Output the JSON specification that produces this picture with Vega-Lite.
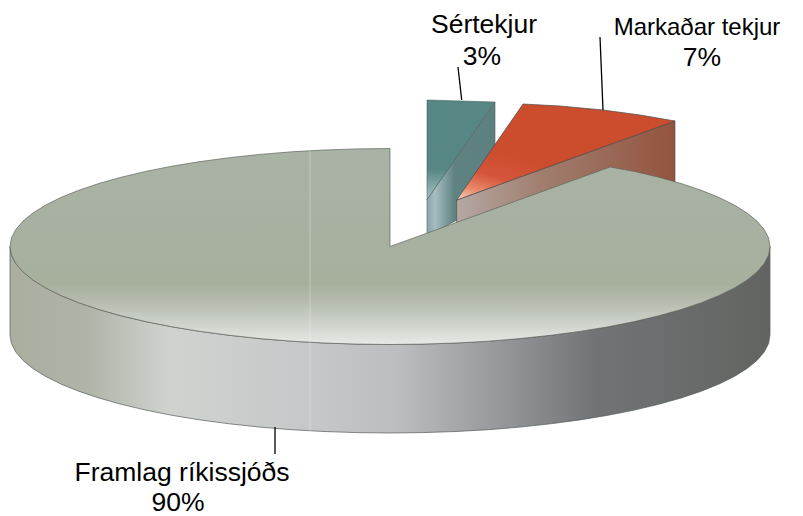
{
"$schema":"https://vega.github.io/schema/vega-lite/v6.json",
"width":803,"height":516,"padding":0,"autosize":{"type":"none"},
"background":"white",
"config":{"view":{"stroke":null}},
"datasets":{
"outline":[
{"shape":"tealSide","order":1,"x":495,"y":102},{"shape":"tealSide","order":2,"x":495,"y":200},{"shape":"tealSide","order":3,"x":427,"y":236},{"shape":"tealSide","order":4,"x":427,"y":199.5},{"shape":"tealSide","order":5,"x":495,"y":102},
{"shape":"tealTop","order":1,"x":427,"y":100},{"shape":"tealTop","order":2,"x":495,"y":102},{"shape":"tealTop","order":3,"x":427,"y":199.5},{"shape":"tealTop","order":4,"x":427,"y":100},
{"shape":"redSide","order":1,"x":675,"y":121},{"shape":"redSide","order":2,"x":675,"y":215},{"shape":"redSide","order":3,"x":456.7,"y":260},{"shape":"redSide","order":4,"x":456.7,"y":200},{"shape":"redSide","order":5,"x":675,"y":121},
{"shape":"redTop","order":1,"x":456.7,"y":200},{"shape":"redTop","order":2,"x":523,"y":104},{"shape":"redTop","order":3,"x":560,"y":106},{"shape":"redTop","order":4,"x":603,"y":110},{"shape":"redTop","order":5,"x":640,"y":115},{"shape":"redTop","order":6,"x":675,"y":121},{"shape":"redTop","order":7,"x":456.7,"y":200},
{"shape":"side","order":1,"x":10,"y":246.5},{"shape":"side","order":2,"x":11.4,"y":255},{"shape":"side","order":3,"x":15.8,"y":263.5},{"shape":"side","order":4,"x":23,"y":271.9},{"shape":"side","order":5,"x":32.9,"y":280},{"shape":"side","order":6,"x":45.6,"y":287.9},{"shape":"side","order":7,"x":60.9,"y":295.5},{"shape":"side","order":7.5,"x":78.7,"y":302.7},{"shape":"side","order":8,"x":98.9,"y":309.5},{"shape":"side","order":8.5,"x":121.3,"y":315.8},{"shape":"side","order":9,"x":145.7,"y":321.6},{"shape":"side","order":9.5,"x":172,"y":326.8},{"shape":"side","order":10,"x":200,"y":331.4},{"shape":"side","order":10.5,"x":229.4,"y":335.3},{"shape":"side","order":11,"x":260,"y":338.6},{"shape":"side","order":11.5,"x":291.7,"y":341.2},{"shape":"side","order":12,"x":324,"y":343},{"shape":"side","order":12.5,"x":356.9,"y":344.1},{"shape":"side","order":13,"x":390,"y":344.5},{"shape":"side","order":13.5,"x":423.1,"y":344.1},{"shape":"side","order":14,"x":456,"y":343},{"shape":"side","order":14.5,"x":488.3,"y":341.2},{"shape":"side","order":15,"x":520,"y":338.6},{"shape":"side","order":15.5,"x":550.6,"y":335.3},{"shape":"side","order":16,"x":580,"y":331.4},{"shape":"side","order":16.5,"x":608,"y":326.8},{"shape":"side","order":17,"x":634.3,"y":321.6},{"shape":"side","order":17.5,"x":658.7,"y":315.8},{"shape":"side","order":18,"x":681.1,"y":309.5},{"shape":"side","order":18.5,"x":701.3,"y":302.7},{"shape":"side","order":19,"x":719.1,"y":295.5},{"shape":"side","order":20,"x":734.4,"y":287.9},{"shape":"side","order":21,"x":747.1,"y":280},{"shape":"side","order":22,"x":757,"y":271.9},{"shape":"side","order":23,"x":764.2,"y":263.5},{"shape":"side","order":24,"x":768.6,"y":255},{"shape":"side","order":25,"x":770,"y":246.5},
{"shape":"side","order":26,"x":770,"y":335},{"shape":"side","order":27,"x":768.6,"y":343.5},{"shape":"side","order":28,"x":764.2,"y":352},{"shape":"side","order":29,"x":757,"y":360.4},{"shape":"side","order":30,"x":747.1,"y":368.5},{"shape":"side","order":31,"x":734.4,"y":376.4},{"shape":"side","order":32,"x":719.1,"y":384},{"shape":"side","order":32.5,"x":701.3,"y":391.2},{"shape":"side","order":33,"x":681.1,"y":398},{"shape":"side","order":33.5,"x":658.7,"y":404.3},{"shape":"side","order":34,"x":634.3,"y":410.1},{"shape":"side","order":34.5,"x":608,"y":415.3},{"shape":"side","order":35,"x":580,"y":419.9},{"shape":"side","order":35.5,"x":550.6,"y":423.8},{"shape":"side","order":36,"x":520,"y":427.1},{"shape":"side","order":36.5,"x":488.3,"y":429.7},{"shape":"side","order":37,"x":456,"y":431.5},{"shape":"side","order":37.5,"x":423.1,"y":432.6},{"shape":"side","order":38,"x":390,"y":433},{"shape":"side","order":38.5,"x":356.9,"y":432.6},{"shape":"side","order":39,"x":324,"y":431.5},{"shape":"side","order":39.5,"x":291.7,"y":429.7},{"shape":"side","order":40,"x":260,"y":427.1},{"shape":"side","order":40.5,"x":229.4,"y":423.8},{"shape":"side","order":41,"x":200,"y":419.9},{"shape":"side","order":41.5,"x":172,"y":415.3},{"shape":"side","order":42,"x":145.7,"y":410.1},{"shape":"side","order":42.5,"x":121.3,"y":404.3},{"shape":"side","order":43,"x":98.9,"y":398},{"shape":"side","order":43.5,"x":78.7,"y":391.2},{"shape":"side","order":44,"x":60.9,"y":384},{"shape":"side","order":45,"x":45.6,"y":376.4},{"shape":"side","order":46,"x":32.9,"y":368.5},{"shape":"side","order":47,"x":23,"y":360.4},{"shape":"side","order":48,"x":15.8,"y":352},{"shape":"side","order":49,"x":11.4,"y":343.5},{"shape":"side","order":50,"x":10,"y":335},{"shape":"side","order":51,"x":10,"y":246.5},
{"shape":"top","order":1,"x":390,"y":148.5},{"shape":"top","order":1.5,"x":356.9,"y":148.9},{"shape":"top","order":2,"x":324,"y":150},{"shape":"top","order":2.5,"x":291.7,"y":151.8},{"shape":"top","order":3,"x":260,"y":154.4},{"shape":"top","order":3.5,"x":229.4,"y":157.7},{"shape":"top","order":4,"x":200,"y":161.6},{"shape":"top","order":4.5,"x":172,"y":166.2},{"shape":"top","order":5,"x":145.7,"y":171.4},{"shape":"top","order":5.5,"x":121.3,"y":177.2},{"shape":"top","order":6,"x":98.9,"y":183.5},{"shape":"top","order":6.5,"x":78.7,"y":190.3},{"shape":"top","order":7,"x":60.9,"y":197.5},{"shape":"top","order":8,"x":45.6,"y":205.1},{"shape":"top","order":9,"x":32.9,"y":213},{"shape":"top","order":10,"x":23,"y":221.1},{"shape":"top","order":11,"x":15.8,"y":229.5},{"shape":"top","order":12,"x":11.4,"y":238},{"shape":"top","order":13,"x":10,"y":246.5},{"shape":"top","order":14,"x":11.4,"y":255},{"shape":"top","order":15,"x":15.8,"y":263.5},{"shape":"top","order":16,"x":23,"y":271.9},{"shape":"top","order":17,"x":32.9,"y":280},{"shape":"top","order":18,"x":45.6,"y":287.9},{"shape":"top","order":19,"x":60.9,"y":295.5},{"shape":"top","order":19.5,"x":78.7,"y":302.7},{"shape":"top","order":20,"x":98.9,"y":309.5},{"shape":"top","order":20.5,"x":121.3,"y":315.8},{"shape":"top","order":21,"x":145.7,"y":321.6},{"shape":"top","order":21.5,"x":172,"y":326.8},{"shape":"top","order":22,"x":200,"y":331.4},{"shape":"top","order":22.5,"x":229.4,"y":335.3},{"shape":"top","order":23,"x":260,"y":338.6},{"shape":"top","order":23.5,"x":291.7,"y":341.2},{"shape":"top","order":24,"x":324,"y":343},{"shape":"top","order":24.5,"x":356.9,"y":344.1},{"shape":"top","order":25,"x":390,"y":344.5},{"shape":"top","order":25.5,"x":423.1,"y":344.1},{"shape":"top","order":26,"x":456,"y":343},{"shape":"top","order":26.5,"x":488.3,"y":341.2},{"shape":"top","order":27,"x":520,"y":338.6},{"shape":"top","order":27.5,"x":550.6,"y":335.3},{"shape":"top","order":28,"x":580,"y":331.4},{"shape":"top","order":28.5,"x":608,"y":326.8},{"shape":"top","order":29,"x":634.3,"y":321.6},{"shape":"top","order":29.5,"x":658.7,"y":315.8},{"shape":"top","order":30,"x":681.1,"y":309.5},{"shape":"top","order":30.5,"x":701.3,"y":302.7},{"shape":"top","order":31,"x":719.1,"y":295.5},{"shape":"top","order":32,"x":734.4,"y":287.9},{"shape":"top","order":33,"x":747.1,"y":280},{"shape":"top","order":34,"x":757,"y":271.9},{"shape":"top","order":35,"x":764.2,"y":263.5},{"shape":"top","order":36,"x":768.6,"y":255},{"shape":"top","order":37,"x":770,"y":246.5},{"shape":"top","order":38,"x":768.6,"y":238},{"shape":"top","order":39,"x":764.2,"y":229.5},{"shape":"top","order":40,"x":757,"y":221.1},{"shape":"top","order":41,"x":747.1,"y":213},{"shape":"top","order":42,"x":734.4,"y":205.1},{"shape":"top","order":43,"x":719.1,"y":197.5},{"shape":"top","order":43.5,"x":701.3,"y":190.3},{"shape":"top","order":44,"x":681.1,"y":183.5},{"shape":"top","order":44.5,"x":658.7,"y":177.2},{"shape":"top","order":45,"x":634.3,"y":171.4},{"shape":"top","order":46,"x":610,"y":167},{"shape":"top","order":47,"x":390,"y":246.5},{"shape":"top","order":48,"x":390,"y":148.5}
],
"leaders":[
{"slice":"Sértekjur","x":458,"y":67,"x2":461.7,"y2":100},
{"slice":"Markaðar tekjur","x":600,"y":37,"x2":603,"y2":110},
{"slice":"Framlag ríkissjóðs","x":275,"y":427,"x2":275,"y2":454}
],
"labels":[
{"text":"Sértekjur","x":484,"y":33},
{"text":"3%","x":482,"y":65},
{"text":"7%","x":702,"y":66},
{"text":"Framlag ríkissjóðs","x":182,"y":481},
{"text":"90%","x":178,"y":511}
],
"labelsNarrow":[
{"text":"Markaðar tekjur","x":697,"y":35}
],
"seam":[{"x":310,"y":150,"y2":431}]
},
"encoding":{
"x":{"field":"x","type":"quantitative","scale":{"domain":[0,803],"nice":false,"zero":false},"axis":null},
"y":{"field":"y","type":"quantitative","scale":{"domain":[516,0],"nice":false,"zero":false},"axis":null}
},
"layer":[
{"data":{"name":"outline"},"transform":[{"filter":"datum.shape==='tealSide'"}],
"mark":{"type":"line","strokeWidth":0.6,"stroke":"#4d5f5e","fill":{"gradient":"linear","x1":0,"y1":0,"x2":1,"y2":0,"stops":[{"offset":0,"color":"#8aa5aa"},{"offset":0.12,"color":"#a6bcc1"},{"offset":0.4,"color":"#5f8382"},{"offset":1,"color":"#5c7f7f"}]}},
"encoding":{"order":{"field":"order","type":"quantitative"}}},
{"data":{"name":"outline"},"transform":[{"filter":"datum.shape==='tealTop'"}],
"mark":{"type":"line","strokeWidth":0.6,"stroke":"#4d5f5e","fill":{"gradient":"linear","x1":0,"y1":0,"x2":0,"y2":1,"stops":[{"offset":0,"color":"#578784"},{"offset":0.7,"color":"#578784"},{"offset":1,"color":"#a8c4c0"}]}},
"encoding":{"order":{"field":"order","type":"quantitative"}}},
{"data":{"name":"outline"},"transform":[{"filter":"datum.shape==='redSide'"}],
"mark":{"type":"line","strokeWidth":0.6,"stroke":"#4a4a4a","fill":{"gradient":"linear","x1":0,"y1":0,"x2":1,"y2":0,"stops":[{"offset":0,"color":"#b5a8a3"},{"offset":0.4,"color":"#a07d6d"},{"offset":1,"color":"#93543f"}]}},
"encoding":{"order":{"field":"order","type":"quantitative"}}},
{"data":{"name":"outline"},"transform":[{"filter":"datum.shape==='redTop'"}],
"mark":{"type":"line","strokeWidth":0.7,"stroke":"#4a4a4a","fill":{"gradient":"linear","x1":0.3,"y1":0.55,"x2":0,"y2":1,"stops":[{"offset":0,"color":"#cc4c2e"},{"offset":0.45,"color":"#d4553a"},{"offset":0.75,"color":"#e98a6a"},{"offset":1,"color":"#f8d5c0"}]}},
"encoding":{"order":{"field":"order","type":"quantitative"}}},
{"data":{"name":"outline"},"transform":[{"filter":"datum.shape==='side'"}],
"mark":{"type":"line","strokeWidth":0.7,"stroke":"#55595a","fill":{"gradient":"linear","x1":0,"y1":0,"x2":1,"y2":0,"stops":[{"offset":0,"color":"#a9ae9f"},{"offset":0.1,"color":"#afb4a7"},{"offset":0.21,"color":"#cfd3cf"},{"offset":0.4,"color":"#c6c7c9"},{"offset":0.51,"color":"#bcbdc1"},{"offset":0.64,"color":"#97999c"},{"offset":0.77,"color":"#717476"},{"offset":1,"color":"#626461"}]}},
"encoding":{"order":{"field":"order","type":"quantitative"}}},
{"data":{"name":"outline"},"transform":[{"filter":"datum.shape==='top'"}],
"mark":{"type":"line","strokeWidth":0.7,"stroke":"#5f645c","fill":{"gradient":"linear","x1":0,"y1":0,"x2":0,"y2":1,"stops":[{"offset":0,"color":"#a9b3a5"},{"offset":0.69,"color":"#a7af9d"},{"offset":0.77,"color":"#b3baab"},{"offset":0.875,"color":"#c9cfc6"},{"offset":1,"color":"#e6e9e6"}]}},
"encoding":{"order":{"field":"order","type":"quantitative"}}},
{"data":{"name":"seam"},"mark":{"type":"rule","stroke":"#ffffff","strokeWidth":1,"opacity":0.3},"encoding":{"y2":{"field":"y2"}}},
{"data":{"name":"leaders"},"mark":{"type":"rule","stroke":"#000000","strokeWidth":1.3},"encoding":{"x2":{"field":"x2"},"y2":{"field":"y2"}}},
{"data":{"name":"labels"},"mark":{"type":"text","font":"Liberation Sans","fontSize":26.5,"align":"center","baseline":"alphabetic","fill":"#000000"},"encoding":{"text":{"field":"text","type":"nominal"}}},
{"data":{"name":"labelsNarrow"},"mark":{"type":"text","font":"Liberation Sans","fontSize":24,"align":"center","baseline":"alphabetic","fill":"#000000"},"encoding":{"text":{"field":"text","type":"nominal"}}}
]
}
